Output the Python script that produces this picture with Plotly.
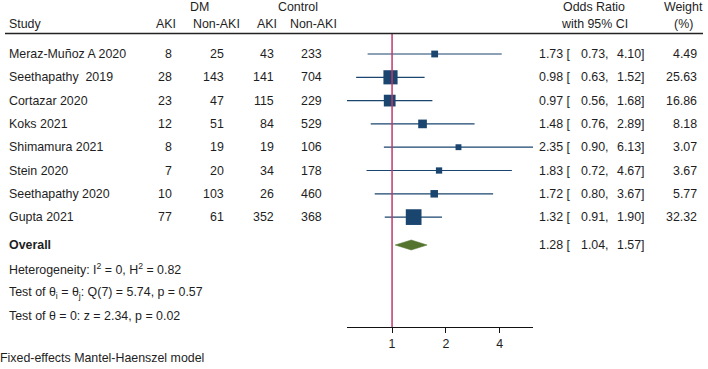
import plotly.graph_objects as go
import math

# ---------------- data ----------------
studies = ["Meraz-Muñoz A 2020", "Seethapathy  2019", "Cortazar 2020", "Koks 2021",
           "Shimamura 2021", "Stein 2020", "Seethapathy 2020", "Gupta 2021"]
dm_aki = [8, 28, 23, 12, 8, 7, 10, 77]
dm_nonaki = [25, 143, 47, 51, 19, 20, 103, 61]
ctrl_aki = [43, 141, 115, 84, 19, 34, 26, 352]
ctrl_nonaki = [233, 704, 229, 529, 106, 178, 460, 368]
odds_ratio = [1.73, 0.98, 0.97, 1.48, 2.35, 1.83, 1.72, 1.32]
ci_low = [0.73, 0.63, 0.56, 0.76, 0.90, 0.72, 0.80, 0.91]
ci_high = [4.10, 1.52, 1.68, 2.89, 6.13, 4.67, 3.67, 1.90]
weights = [4.49, 25.63, 16.86, 8.18, 3.07, 3.67, 5.77, 32.32]
overall_or = 1.28
overall_low = 1.04
overall_high = 1.57
tick_vals = [1, 2, 4]
tick_text = ["1", "2", "4"]
het_lines = ["Heterogeneity: I<sup>2</sup> = 0, H<sup>2</sup> = 0.82",
             "Test of θ<sub>i</sub> = θ<sub>j</sub>: Q(7) = 5.74, p = 0.57",
             "Test of θ = 0: z = 2.34, p = 0.02"]
footnote = "Fixed-effects Mantel-Haenszel model"

# ---------------- layout ----------------
W, H = 708, 369
FONT = "Liberation Sans, Arial, Helvetica, sans-serif"
FS = 12.4
NAVY = "#1a456e"
GREEN = "#55752f"
RED = "#c0396b"
TXT = "#1e1e1e"


def px(x):
    return x / W


row_y = [54 + 23.3 * i for i in range(len(studies))]
overall_y = 245
het_y = [269, 292.5, 316]
axis_y = 327

x0_px, x1_px = 347, 533
xmin, xmax = min(ci_low), max(ci_high)

fig = go.Figure()

# CI lines (one trace, gaps between rows)
ci_x, ci_y = [], []
for lo, hi, y in zip(ci_low, ci_high, row_y):
    ci_x += [lo, hi, None]
    ci_y += [y, y, None]
fig.add_trace(go.Scatter(x=ci_x, y=ci_y, mode="lines", line=dict(color=NAVY, width=1.2),
                         hoverinfo="skip", showlegend=False, cliponaxis=False))

# squares, area proportional to weight
fig.add_trace(go.Scatter(x=odds_ratio, y=row_y, mode="markers",
                         marker=dict(symbol="square", color=NAVY, opacity=1,
                                     size=[2.5 * math.sqrt(w) + 1.5 for w in weights],
                                     line=dict(width=0)),
                         hoverinfo="skip", showlegend=False, cliponaxis=False))

# overall diamond
dh = 5
fig.add_trace(go.Scatter(x=[overall_low, overall_or, overall_high, overall_or, overall_low],
                         y=[overall_y, overall_y - dh, overall_y, overall_y + dh, overall_y],
                         mode="lines", fill="toself", fillcolor=GREEN,
                         line=dict(color=GREEN, width=0.5), hoverinfo="skip",
                         showlegend=False, cliponaxis=False))

# null line and header rule
fig.add_shape(type="line", xref="x", yref="y", x0=1, x1=1, y0=33.5, y1=axis_y,
              line=dict(color=RED, width=1.5))
fig.add_shape(type="line", xref="paper", yref="y", x0=px(5), x1=px(703), y0=33.5, y1=33.5,
              line=dict(color="#222222", width=1.5))

annots = []


def txt(x, y, s, anchor="left", bold=False):
    annots.append(dict(x=px(x), y=y, xref="paper", yref="y",
                       text=("<b>%s</b>" % s) if bold else s,
                       showarrow=False, xanchor=anchor, yanchor="middle",
                       font=dict(family=FONT, size=FS, color=TXT)))


# headers
h1, h2 = 6.5, 24
txt(199, h1, "DM", "center")
txt(298, h1, "Control", "center")
txt(594, h1, "Odds Ratio", "center")
txt(683, h1, "Weight", "center")
txt(7, h2, "Study")
txt(166, h2, "AKI", "center")
txt(216, h2, "Non-AKI", "center")
txt(267, h2, "AKI", "center")
txt(313, h2, "Non-AKI", "center")
txt(594, h2, "with 95% CI", "center")
txt(683, h2, "(%)", "center")

for i, name in enumerate(studies):
    y = row_y[i]
    txt(7, y, name)
    txt(174, y, str(dm_aki[i]), "right")
    txt(226, y, str(dm_nonaki[i]), "right")
    txt(276, y, str(ctrl_aki[i]), "right")
    txt(324, y, str(ctrl_nonaki[i]), "right")
    txt(573, y, "%.2f [" % odds_ratio[i], "right")
    txt(611, y, "%.2f," % ci_low[i], "right")
    txt(647, y, "%.2f]" % ci_high[i], "right")
    txt(699, y, "%.2f" % weights[i], "right")

txt(7, overall_y, "Overall", bold=True)
txt(573, overall_y, "%.2f [" % overall_or, "right")
txt(611, overall_y, "%.2f," % overall_low, "right")
txt(647, overall_y, "%.2f]" % overall_high, "right")

for y, s in zip(het_y, het_lines):
    txt(7, y, s)
txt(-2, 358, footnote)

fig.update_layout(
    width=W, height=H, margin=dict(l=0, r=0, t=0, b=0),
    paper_bgcolor="white", plot_bgcolor="white",
    annotations=annots, hovermode=False,
    xaxis=dict(type="log", domain=[px(x0_px), px(x1_px)],
               range=[math.log10(xmin), math.log10(xmax)],
               anchor="free", position=(H - axis_y) / H,
               showline=True, linecolor="#111111", linewidth=1.2,
               ticks="outside", ticklen=5, tickcolor="#111111", tickwidth=1,
               tickvals=tick_vals, ticktext=tick_text,
               tickfont=dict(family=FONT, size=FS, color=TXT),
               showgrid=False, zeroline=False, fixedrange=True),
    yaxis=dict(domain=[0, 1], range=[H, 0], visible=False, showgrid=False, zeroline=False,
               fixedrange=True),
)

fig.write_html("out.html", config={"displayModeBar": False, "staticPlot": True},
               post_script="document.body.style.margin='0';document.body.style.overflow='hidden';")
